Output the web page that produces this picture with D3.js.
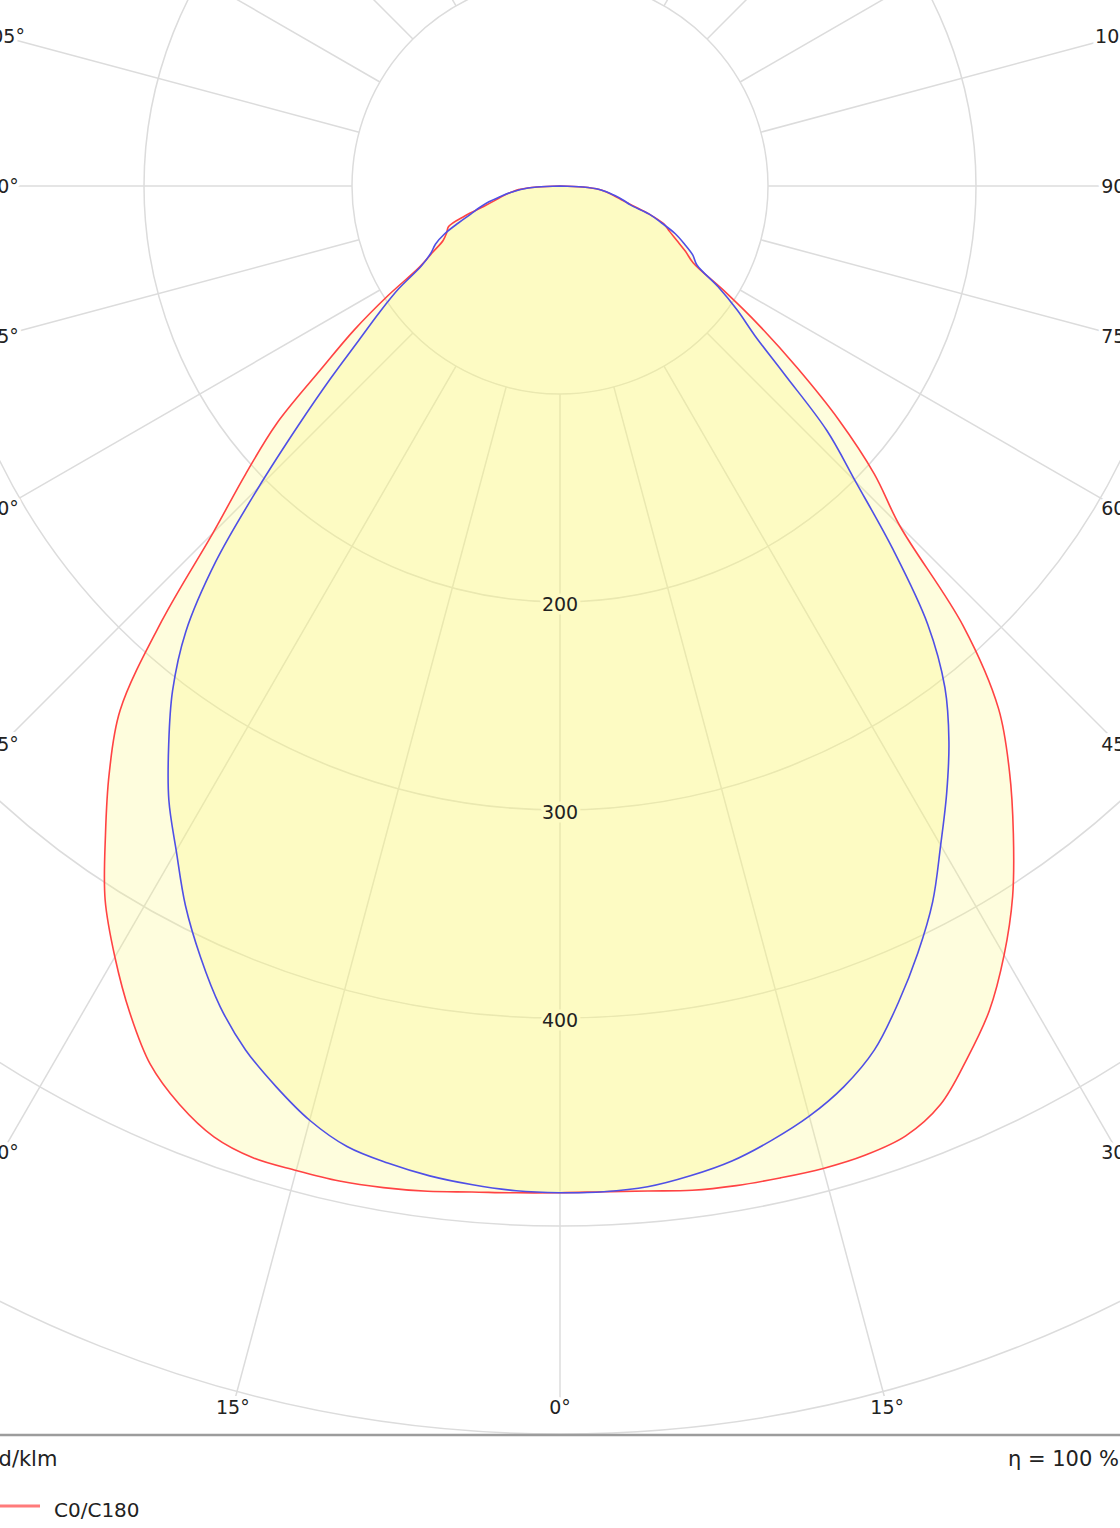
<!DOCTYPE html>
<html>
<head>
<meta charset="utf-8">
<script src="https://cdn.jsdelivr.net/npm/d3@7"></script>
<style>
  body { margin: 0; background: #fff; }
  svg { display: block; font-family: "DejaVu Sans", Verdana, sans-serif; }
</style>
</head>
<body>
<svg id="chart" width="1120" height="1528"></svg>
<script>
// gamma angles (0 = straight down), values in cd/klm
const gammas = [0, 2.5, 5, 7.5, 10, 12.5, 15, 17.5, 20, 22.5, 25, 27.5, 30, 32.5, 35, 37.5, 40, 42.5, 45,
    47.5, 50, 52.5, 55, 57.5, 60, 62.5, 65, 67.5, 70, 72.5, 75, 77.5, 80, 82.5, 85, 87.5, 90];

const c0 = [484, 484, 485, 487, 488, 488.5, 489, 488.5, 486, 478, 463, 447, 427, 405, 380, 355, 328, 287, 231,
    205, 175, 144, 117, 93, 74, 68, 62, 57, 53, 45, 36, 30, 26, 22.5, 19, 11, 0];
const c180 = [484, 484.5, 485.5, 487.5, 489, 490, 490, 490, 486.5, 478, 466, 448, 428, 407, 381, 356, 329, 283, 236,
    205, 178, 145, 121, 98, 78, 69, 62, 59, 57, 48, 38, 32, 28, 24, 20, 11, 0];
const c90 = [484, 484, 483, 480, 476, 470, 463, 454, 442, 425, 407, 388, 366, 346, 326, 304, 275, 237, 201,
    174, 141, 118, 104, 90, 76, 72, 66, 60, 52, 45, 35, 31, 27, 23, 19, 11, 0];
const c270 = [484, 483.5, 482, 480, 477, 473, 465, 454, 442, 427, 409, 390, 369, 350, 328, 306, 280, 245, 205,
    171, 144, 122, 106, 92, 77, 70, 66, 60, 52, 45, 40, 35, 29, 24, 19, 11, 0];

const rings = [100, 200, 300, 400, 500, 600];
const ringLabels = [200, 300, 400];
const spokes = [0, 15, 30, 45, 60, 75, 90, 105, 120, 135, 150, 165, 180];

const svg = d3.select("#chart");
const cx = 560, cy = 186;
const r = d3.scaleLinear().domain([0, 600]).range([0, 1248]);
const rad = d => d * Math.PI / 180;

svg.append("defs").append("clipPath").attr("id", "plotclip")
    .append("rect").attr("x", -10).attr("y", -2000).attr("width", 1140).attr("height", 2000 + 1435);

const g = svg.append("g").attr("transform", "translate(" + cx + "," + cy + ")");
const grid = g.append("g").attr("clip-path", "url(#plotclip)")
    .attr("transform", "translate(" + (-cx) + "," + (-cy) + ")")
    .append("g").attr("transform", "translate(" + cx + "," + cy + ")");

// where a spoke meets the label frame
function spokeEnd(deg, side) {
    const dx = side * Math.sin(rad(deg)), dy = Math.cos(rad(deg));
    let t = 3000;
    if (Math.abs(dx) > 1e-6) t = Math.min(t, 558 / Math.abs(dx));
    if (dy > 1e-6) t = Math.min(t, 1221 / dy);
    return [t * dx, t * dy];
}

grid.selectAll("circle.ring")
    .data(rings)
    .enter().append("circle")
    .attr("class", "ring")
    .attr("r", d => r(d))
    .attr("fill", "none")
    .attr("stroke", "#dcdcdc")
    .attr("stroke-width", 1.5);

const spokeData = [];
spokes.forEach(d => {
    spokeData.push({ deg: d, side: 1 });
    if (d !== 0 && d !== 180) spokeData.push({ deg: d, side: -1 });
});

grid.selectAll("line.spoke")
    .data(spokeData)
    .enter().append("line")
    .attr("class", "spoke")
    .attr("x1", d => d.side * r(100) * Math.sin(rad(d.deg)))
    .attr("y1", d => r(100) * Math.cos(rad(d.deg)))
    .attr("x2", d => spokeEnd(d.deg, d.side)[0])
    .attr("y2", d => spokeEnd(d.deg, d.side)[1])
    .attr("stroke", "#dcdcdc")
    .attr("stroke-width", 1.5);

// C-plane outlines: right half then left half, d3 angle = PI -/+ gamma
function planePoints(right, left) {
    const pts = [];
    for (let i = gammas.length - 1; i >= 0; i--) pts.push([Math.PI - rad(gammas[i]), right[i]]);
    for (let i = 1; i < gammas.length; i++) pts.push([Math.PI + rad(gammas[i]), left[i]]);
    return pts;
}

const line = d3.lineRadial()
    .angle(d => d[0])
    .radius(d => r(d[1]))
    .curve(d3.curveCatmullRomClosed);

const planes = [
    { name: "C0/C180", pts: planePoints(c0, c180), color: "#ff4343" },
    { name: "C90/C270", pts: planePoints(c90, c270), color: "#4f4fe6" }
];

g.selectAll("path.fill")
    .data(planes)
    .enter().append("path")
    .attr("class", "fill")
    .attr("d", d => line(d.pts))
    .attr("fill", "rgb(252,248,120)")
    .attr("fill-opacity", 0.25);

g.selectAll("path.outline")
    .data(planes)
    .enter().append("path")
    .attr("class", "outline")
    .attr("d", d => line(d.pts))
    .attr("fill", "none")
    .attr("stroke", d => d.color)
    .attr("stroke-width", 1.6);

// value labels on the 0 deg spoke
g.selectAll("text.val")
    .data(ringLabels)
    .enter().append("text")
    .attr("class", "val")
    .attr("x", 0)
    .attr("y", d => r(d) + 2)
    .attr("text-anchor", "middle")
    .attr("dominant-baseline", "central")
    .attr("font-size", 19)
    .attr("fill", "#222")
    .attr("stroke", "rgb(253,251,196)")
    .attr("stroke-width", 7)
    .attr("stroke-linejoin", "round")
    .attr("paint-order", "stroke")
    .text(d => d);

// angle labels
g.selectAll("text.ang")
    .data(spokeData)
    .enter().append("text")
    .attr("class", "ang")
    .attr("x", d => spokeEnd(d.deg, d.side)[0])
    .attr("y", d => spokeEnd(d.deg, d.side)[1])
    .attr("text-anchor", "middle")
    .attr("dominant-baseline", "central")
    .attr("font-size", 19)
    .attr("fill", "#222")
    .attr("stroke", "#fff")
    .attr("stroke-width", 8)
    .attr("stroke-linejoin", "round")
    .attr("paint-order", "stroke")
    .text(d => d.deg + "°");

// frame line and footer
svg.append("line")
    .attr("x1", 0).attr("x2", 1120)
    .attr("y1", 1435).attr("y2", 1435)
    .attr("stroke", "#9c9c9c")
    .attr("stroke-width", 2.5);

svg.append("text")
    .attr("x", -13).attr("y", 1466)
    .attr("font-size", 21)
    .attr("fill", "#222")
    .text("cd/klm");

svg.append("text")
    .attr("x", 1008).attr("y", 1466)
    .attr("font-size", 21)
    .attr("fill", "#222")
    .text("η = 100 %");

const legend = svg.append("g").attr("transform", "translate(0,1506)");
legend.append("line")
    .attr("x1", -20).attr("x2", 40)
    .attr("y1", 0).attr("y2", 0)
    .attr("stroke", planes[0].color)
    .attr("stroke-opacity", 0.7)
    .attr("stroke-width", 3);
legend.append("text")
    .attr("x", 54).attr("y", 11)
    .attr("font-size", 20)
    .attr("fill", "#222")
    .text(planes[0].name);
</script>
</body>
</html>
